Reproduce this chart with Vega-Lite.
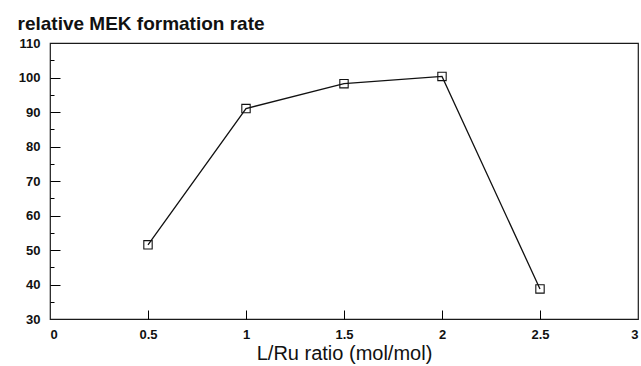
{
  "$schema": "https://vega.github.io/schema/vega-lite/v6.json",
  "width": 588,
  "height": 276,
  "autosize": "none",
  "padding": {"left": 50, "top": 43, "right": 3, "bottom": 47},
  "config": {
    "view": {"stroke": "#1a1a1a", "strokeWidth": 1.2}
  },
  "data": {
    "values": [
      {"ratio": 0.5, "rate": 51.5},
      {"ratio": 1.0, "rate": 91.0},
      {"ratio": 1.5, "rate": 98.2},
      {"ratio": 2.0, "rate": 100.3},
      {"ratio": 2.5, "rate": 38.7}
    ]
  },
  "layer": [
    {
      "mark": {"type": "line", "color": "#111", "strokeWidth": 1.3,
        "point": {"shape": "square", "filled": false, "size": 70, "color": "#111", "strokeWidth": 1.1, "opacity": 1}},
      "encoding": {
        "x": {
          "field": "ratio", "type": "quantitative",
          "scale": {"domain": [0, 3], "nice": false},
          "axis": {
            "orient": "bottom",
            "values": [0, 0.5, 1, 1.5, 2, 2.5, 3],
            "format": "~g",
            "grid": false,
            "domain": false,
            "ticks": false,
            "labelPadding": 9,
            "labelColor": "#111",
            "labelFont": "Liberation Sans",
            "labelFontSize": 13,
            "labelFontWeight": "bold",
            "title": "L/Ru ratio (mol/mol)",
            "titleFont": "Liberation Sans",
            "titleColor": "#111",
            "titleFontSize": 20,
            "titleFontWeight": "normal",
            "titleY": 40,
            "titleBaseline": "alphabetic"
          }
        },
        "y": {
          "field": "rate", "type": "quantitative",
          "scale": {"domain": [30, 110], "nice": false},
          "axis": {
            "orient": "left",
            "values": [30, 40, 50, 60, 70, 80, 90, 100, 110],
            "grid": false,
            "domain": false,
            "ticks": false,
            "labelPadding": 10,
            "labelColor": "#111",
            "labelFont": "Liberation Sans",
            "labelFontSize": 13,
            "labelFontWeight": "bold",
            "title": "relative MEK formation rate",
            "titleFont": "Liberation Sans",
            "titleColor": "#111",
            "titleAngle": 0,
            "titleAlign": "left",
            "titleX": -33,
            "titleY": -14,
            "titleBaseline": "alphabetic",
            "titleFontSize": 19,
            "titleFontWeight": "bold"
          }
        }
      }
    },
    {
      "mark": {"type": "point", "opacity": 0},
      "encoding": {
        "x": {
          "field": "ratio", "type": "quantitative",
          "axis": {"orient": "top", "offset": -276, "values": [0.5, 1, 1.5, 2, 2.5], "ticks": true, "tickSize": 9, "tickColor": "black", "labels": false, "domain": false, "grid": false, "title": null}
        },
        "y": {
          "field": "rate", "type": "quantitative",
          "axis": {"orient": "right", "offset": -588, "values": [40, 50, 60, 70, 80, 90, 100], "ticks": true, "tickSize": 10, "tickColor": "black", "labels": false, "domain": false, "grid": false, "title": null}
        }
      }
    },
    {
      "mark": {"type": "point", "opacity": 0},
      "encoding": {
        "x": {"field": "ratio", "type": "quantitative", "axis": null},
        "y": {
          "field": "rate", "type": "quantitative",
          "axis": {"orient": "right", "offset": -588, "values": [35, 45, 55, 65, 75, 85, 95, 105], "ticks": true, "tickSize": 4, "tickColor": "black", "labels": false, "domain": false, "grid": false, "title": null}
        }
      }
    }
  ]
}
